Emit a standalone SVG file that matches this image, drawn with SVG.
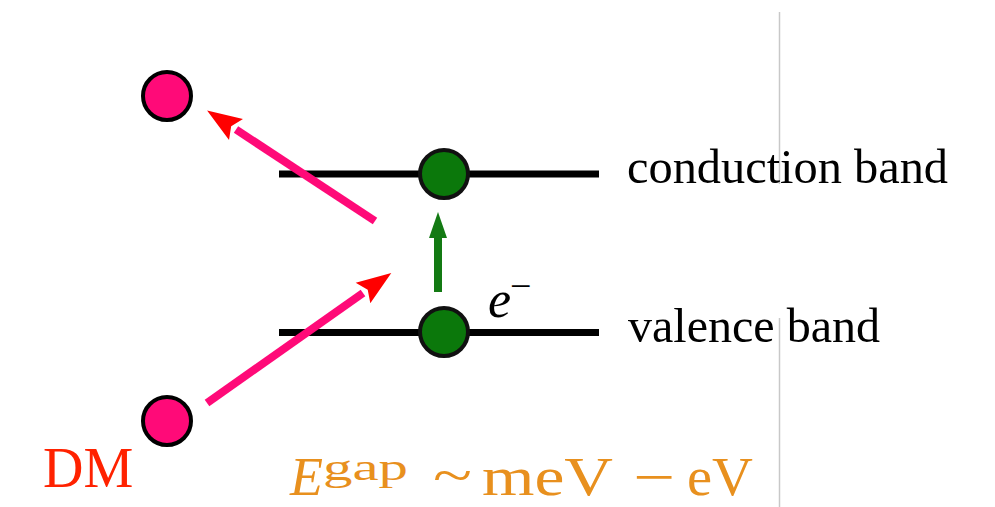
<svg xmlns="http://www.w3.org/2000/svg" width="995" height="507" viewBox="0 0 995 507">
  <style>
    .band{stroke:#000;stroke-width:7;fill:none}
    .dm{fill:#ff0a78;stroke:#000;stroke-width:4}
    .el{fill:#0b780b;stroke:#111;stroke-width:4}
    .pink{stroke:#ff0a78;stroke-width:8;fill:none}
    .lbl{font-family:"Liberation Serif","Times New Roman",Times,serif;fill:#000}
    .f{font-family:"Liberation Serif","Times New Roman",Times,serif;fill:#e8901e}
    .sep{stroke:#c8c8c8;stroke-width:1.5}
  </style>
  <defs>
    <marker id="redhead" markerUnits="userSpaceOnUse" markerWidth="40" markerHeight="30" viewBox="-2 -13 34 26" refX="0" refY="0" orient="auto">
      <path d="M0,-11 L30,0 L0,11 L5,0 z" fill="#ff0000"/>
    </marker>
  </defs>
  <rect width="995" height="507" fill="#fff"/>
  <g id="separator">
    <line class="sep" x1="779.5" y1="12" x2="779.5" y2="184"/>
    <line class="sep" x1="779.5" y1="318" x2="779.5" y2="507"/>
  </g>
  <g id="conduction-band">
    <line class="band" x1="279" y1="174" x2="599" y2="174"/>
    <text class="lbl" x="627" y="183" font-size="48" textLength="321" lengthAdjust="spacingAndGlyphs">conduction band</text>
  </g>
  <g id="valence-band">
    <line class="band" x1="279" y1="332.5" x2="599" y2="332.5"/>
    <text class="lbl" x="628" y="342" font-size="48" textLength="252" lengthAdjust="spacingAndGlyphs">valence band</text>
  </g>
  <g id="connectors">
    <line class="pink" x1="207" y1="403" x2="363" y2="293" marker-end="url(#redhead)"/>
    <line class="pink" x1="375" y1="221" x2="236" y2="129.5" marker-end="url(#redhead)"/>
    <line x1="438" y1="292" x2="438" y2="236" stroke="#137a13" stroke-width="8"/>
    <polygon points="438,212 429,238 447,238" fill="#137a13"/>
  </g>
  <g id="electron-conduction">
    <circle class="el" cx="444" cy="174" r="24"/>
  </g>
  <g id="electron-valence">
    <circle class="el" cx="444" cy="332" r="24"/>
  </g>
  <g id="e-label">
    <text class="lbl" x="488" y="317" font-size="52" font-style="italic">e</text>
    <text class="lbl" x="510" y="299" font-size="38">−</text>
  </g>
  <g id="dm-out">
    <circle class="dm" cx="167" cy="96" r="24"/>
  </g>
  <g id="dm-in">
    <circle class="dm" cx="167" cy="421" r="24"/>
    <text class="lbl" x="43" y="487" font-size="56" style="fill:#ff2200">DM</text>
  </g>
  <g id="gap-formula">
    <text class="f" x="290" y="495" font-size="54" font-style="italic" textLength="33" lengthAdjust="spacingAndGlyphs">E</text>
    <text class="f" x="323" y="480" font-size="38" textLength="85" lengthAdjust="spacingAndGlyphs">gap</text>
    <text class="f" x="433" y="494" font-size="54" textLength="39" lengthAdjust="spacingAndGlyphs">~</text>
    <text class="f" x="482" y="495" font-size="54" textLength="131" lengthAdjust="spacingAndGlyphs">meV</text>
    <text class="f" x="633" y="495" font-size="54" textLength="42" lengthAdjust="spacingAndGlyphs">−</text>
    <text class="f" x="687" y="495" font-size="54" textLength="66" lengthAdjust="spacingAndGlyphs">eV</text>
  </g>
</svg>
